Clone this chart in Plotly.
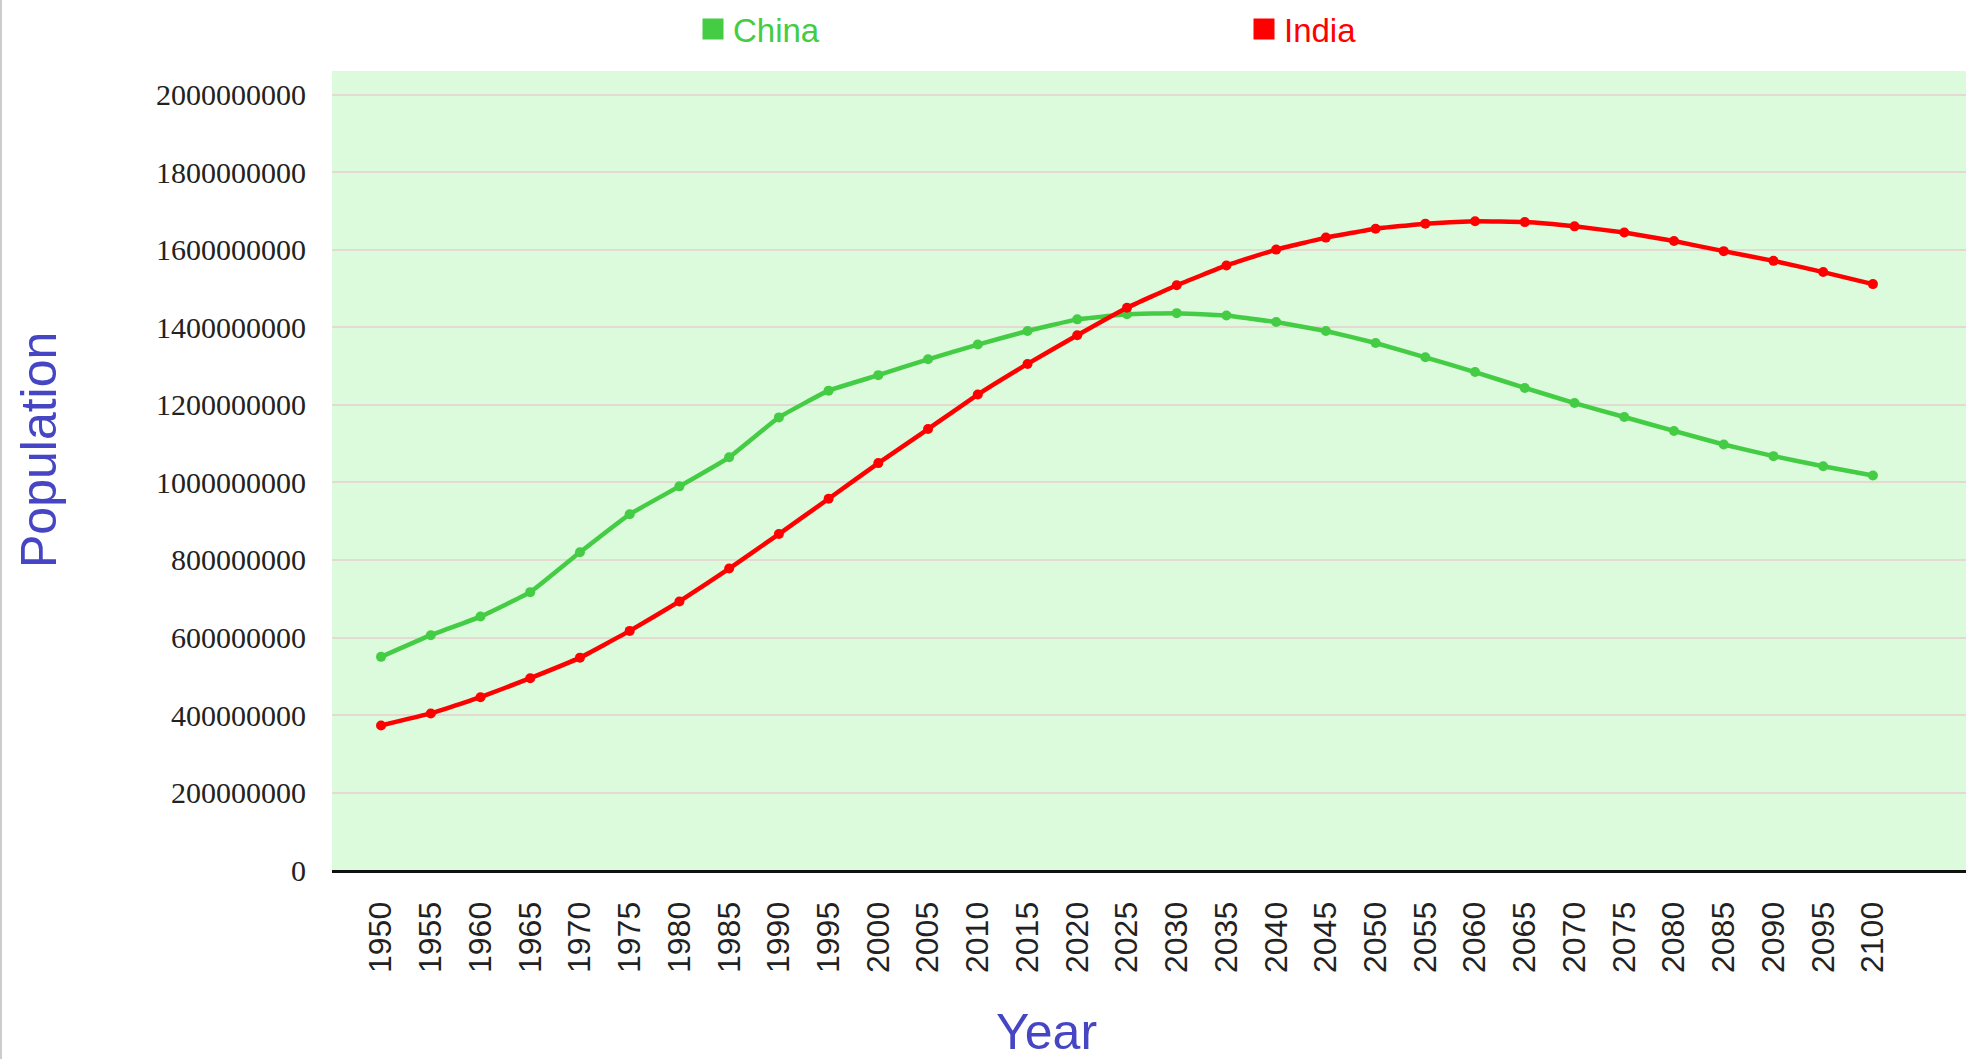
import plotly.graph_objects as go

years = list(range(1950, 2101, 5))

china = [550, 606, 654, 717, 820, 918, 990, 1065, 1168, 1237, 1277, 1318, 1356, 1391, 1421,
         1434, 1437, 1431, 1414, 1391, 1360, 1323, 1285, 1244, 1205, 1169, 1133, 1098, 1068, 1042, 1018]
india = [373, 404, 446, 495, 548, 617, 693, 778, 867, 958, 1050, 1138, 1227, 1306, 1380,
         1451, 1509, 1560, 1601, 1632, 1655, 1668, 1674, 1672, 1661, 1645, 1623, 1597, 1572, 1543, 1512]
china = [v * 1_000_000 for v in china]
india = [v * 1_000_000 for v in india]

y_ticks = list(range(0, 2_000_000_001, 200_000_000))

GREEN = "#44cc44"
RED = "#ff0000"
TITLE = "#4646c4"

W, H = 1966, 1059
L, R, T, B = 332, 0, 71, 189
pw, ph = W - L - R, H - T - B

def px(x):
    return (x - L) / pw

def py(y):
    return (H - B - y) / ph

fig = go.Figure()
for name, vals, col in [("China", china, GREEN), ("India", india, RED)]:
    fig.add_trace(go.Scatter(
        x=years, y=vals, mode="lines+markers", name=name, legendgroup=name,
        showlegend=False,
        line=dict(color=col, width=4.5, shape="spline", smoothing=0.3),
        marker=dict(color=col, size=10),
    ))
    fig.add_trace(go.Scatter(
        x=[None], y=[None], mode="markers", legendgroup=name,
        name=f"<span style='color:{col}'>{name}</span>",
        marker=dict(symbol="square", color=col, size=16, line=dict(color=col, width=6)),
    ))

fig.update_layout(
    width=W, height=H,
    margin=dict(l=L, r=R, t=T, b=B, pad=0),
    paper_bgcolor="white",
    plot_bgcolor="#dcfadc",
    showlegend=True,
    legend=dict(
        orientation="h", x=px(693), xanchor="left", y=py(29), yanchor="middle",
        font=dict(family="Liberation Sans, Arial", size=33),
        entrywidth=506, entrywidthmode="pixels",
        bgcolor="rgba(0,0,0,0)",
    ),
    xaxis=dict(
        range=[1945.07, 2109.36],
        tickmode="array", tickvals=years, ticktext=[str(y) for y in years],
        tickangle=-90,
        tickfont=dict(family="Liberation Sans, Arial", size=32, color="#222222"),
        ticklabelstandoff=16,
        showgrid=False, zeroline=False,
        showline=True, linecolor="#111111", linewidth=3,
        ticks="",
    ),
    yaxis=dict(
        range=[0, 2.0619e9],
        tickmode="array", tickvals=y_ticks, ticktext=[str(v) for v in y_ticks],
        tickfont=dict(family="Liberation Serif, Times New Roman", size=30, color="#222222"),
        ticklabelstandoff=25,
        showgrid=True, gridcolor="#e4dad2", gridwidth=2,
        zeroline=False, showline=False, ticks="",
    ),
    annotations=[
        dict(text="Population", x=px(39), y=py(450), xref="paper", yref="paper",
             xanchor="center", yanchor="middle",
             showarrow=False, textangle=-90,
             font=dict(family="Liberation Sans, Arial", size=50, color=TITLE)),
        dict(text="Year", x=px(1046), y=py(1032), xref="paper", yref="paper",
             xanchor="center", yanchor="middle",
             showarrow=False,
             font=dict(family="Liberation Sans, Arial", size=50, color=TITLE)),
    ],
    shapes=[
        dict(type="line", xref="paper", yref="paper", x0=px(1), x1=px(1),
             y0=py(H), y1=py(0), line=dict(color="#cccccc", width=2)),
    ],
)

fig.write_html(
    "out.html",
    config={"displayModeBar": False},
    post_script="document.body.style.margin='0';document.body.style.overflow='hidden';",
)
